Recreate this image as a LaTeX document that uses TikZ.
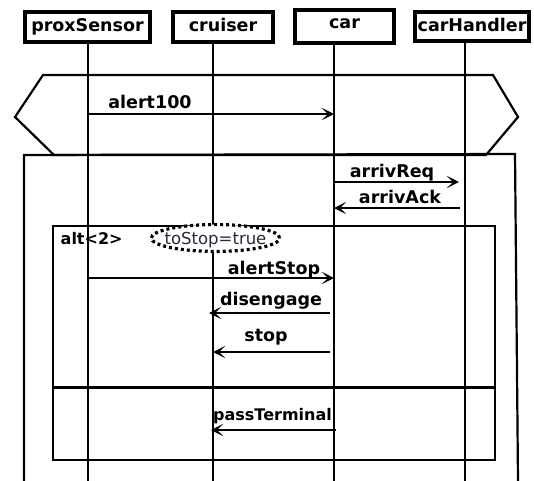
\documentclass[tikz,border=0pt]{standalone}
\usepackage{fontspec}
\setmainfont{DejaVu Sans}
\usetikzlibrary{arrows.meta,shapes.geometric}
\begin{document}
\begin{tikzpicture}[x=1pt,y=-1pt,
  header/.style={draw, line width=4.5pt, inner sep=0pt,
    font=\fontsize{17.5}{20}\selectfont\bfseries,
    text height=12pt, text depth=2.6pt},
  lifeline/.style={line width=2.4pt},
  frame/.style={line width=2.2pt, line join=miter},
  msg/.style={line width=2.2pt, -{Stealth[length=12pt,width=12pt,inset=6pt]}},
  lbl/.style={font=\fontsize{17.5}{20}\selectfont\bfseries, anchor=base, inner sep=0pt},
  cond/.style={shape=ellipse, draw, fill=white, line width=3.2pt,
    dash pattern=on 3pt off 3pt, inner xsep=-5.5pt, inner ysep=3pt,
    text height=13pt, text depth=0pt, text={rgb,255:red,40;green,40;blue,55},
    font=\fontsize{16.5}{20}\selectfont},
]
\useasboundingbox (0,0) rectangle (534,480);

% lifeline heads
\node[header, minimum width=125pt, minimum height=30pt] (ps) at (87.5,27) {proxSensor};
\node[header, minimum width=100pt, minimum height=30pt] (cr) at (223,27) {cruiser};
\node[header, minimum width=99pt, minimum height=33pt, text height=9pt, text depth=6pt] (ca) at (344.5,26.5) {car};
\node[header, minimum width=114pt, minimum height=29pt] (ch) at (472,26.5) {carHandler};

% lifelines
\coordinate (psT) at (88,44);  \coordinate (psB) at (88,482);
\coordinate (crT) at (213,44); \coordinate (crB) at (213,482);
\coordinate (caT) at (334,45); \coordinate (caB) at (334,482);
\coordinate (chT) at (465,43); \coordinate (chB) at (465,482);
\draw[lifeline] (psT) -- (psB);
\draw[lifeline] (crT) -- (crB);
\draw[lifeline] (caT) -- (caB);
\draw[lifeline] (chT) -- (chB);

% hexagonal fragment and enclosing frame
\draw[frame] (43,75) -- (493,75) -- (518,117) -- (486,155) -- (54,155) -- (15,117) -- cycle;
\draw[frame] (24,482) -- (24,155) -- (515,154) -- (518,482);

% alt fragment with its operand divider
\draw[frame] (53,226) rectangle (495,460);
\draw[frame] (53,387.5) -- (495,387.5);
\node[font=\fontsize{16}{19}\selectfont\bfseries, anchor=base west, inner sep=0pt] (alt) at (60.5,244) {alt<2>};
\node[cond] (guard) at (215.5,238) {toStop=true};

% message end points
\coordinate (m1a) at (88,114);  \coordinate (m1b) at (334,114);
\coordinate (m2a) at (334,182); \coordinate (m2b) at (459,182);
\coordinate (m3a) at (460,208); \coordinate (m3b) at (334,208);
\coordinate (m4a) at (88,278);  \coordinate (m4b) at (334,278);
\coordinate (m5a) at (330,313); \coordinate (m5b) at (209,313);
\coordinate (m6a) at (330,352); \coordinate (m6b) at (213,352);
\coordinate (m7a) at (336,430); \coordinate (m7b) at (211,430);

% messages
\draw[msg] (m1a) -- (m1b);
\draw[msg] (m2a) -- (m2b);
\draw[msg] (m3a) -- (m3b);
\draw[msg] (m4a) -- (m4b);
\draw[msg] (m5a) -- (m5b);
\draw[msg] (m6a) -- (m6b);
\draw[msg] (m7a) -- (m7b);

% message labels
\node[lbl] (t1) at (150,108) {alert100};
\node[lbl] (t2) at (392,177) {arrivReq};
\node[lbl] (t3) at (400,203) {arrivAck};
\node[lbl] (t4) at (274,274) {alertStop};
\node[lbl] (t5) at (271,305) {disengage};
\node[lbl] (t6) at (266,341) {stop};
\node[lbl, font=\fontsize{16}{19}\selectfont\bfseries] (t7) at (272.5,420) {passTerminal};
\end{tikzpicture}
\end{document}
